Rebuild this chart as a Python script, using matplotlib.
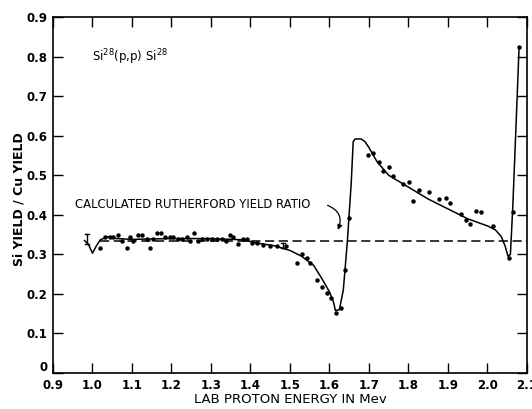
import numpy as np
from matplotlib import pyplot as plt
from matplotlib.transforms import ScaledTranslation

# measured points (dots)
dot_x = [1.019, 1.032, 1.044, 1.052, 1.065, 1.075, 1.087, 1.095, 1.103, 1.115,
         1.125, 1.138, 1.146, 1.153, 1.163, 1.173, 1.184, 1.196, 1.204, 1.216,
         1.227, 1.239, 1.247, 1.257, 1.267, 1.277, 1.290, 1.302, 1.315, 1.328,
         1.338, 1.348, 1.356, 1.368, 1.381, 1.391, 1.404, 1.416, 1.432, 1.449,
         1.467, 1.490, 1.518, 1.530, 1.543, 1.551, 1.568, 1.581, 1.594, 1.604,
         1.616, 1.629, 1.639, 1.649,
         1.697, 1.710, 1.725, 1.735, 1.751, 1.761, 1.786, 1.801, 1.811, 1.827,
         1.852, 1.877, 1.895, 1.905, 1.933, 1.946, 1.956, 1.971, 1.984, 2.014,
         2.054, 2.065, 2.080]
dot_y = [0.317, 0.343, 0.345, 0.343, 0.348, 0.335, 0.317, 0.343, 0.333, 0.348,
         0.348, 0.340, 0.315, 0.340, 0.353, 0.353, 0.343, 0.345, 0.345, 0.338,
         0.338, 0.345, 0.335, 0.355, 0.335, 0.338, 0.338, 0.340, 0.340, 0.340,
         0.335, 0.350, 0.345, 0.327, 0.340, 0.340, 0.330, 0.330, 0.325, 0.320,
         0.320, 0.322, 0.279, 0.302, 0.292, 0.279, 0.236, 0.218, 0.203, 0.190,
         0.152, 0.165, 0.261, 0.393,
         0.551, 0.556, 0.533, 0.510, 0.520, 0.498, 0.477, 0.482, 0.434, 0.462,
         0.457, 0.439, 0.442, 0.430, 0.401, 0.388, 0.378, 0.411, 0.406, 0.371,
         0.292, 0.406, 0.825]

# hand-drawn fitted curve
curve_x = [0.98, 0.99, 1.00, 1.01, 1.02, 1.04, 1.06, 1.10, 1.20, 1.30, 1.38,
           1.42, 1.46, 1.50, 1.53, 1.56, 1.58, 1.60, 1.61, 1.615, 1.625, 1.635,
           1.645, 1.655, 1.66, 1.665, 1.68, 1.69, 1.70, 1.72, 1.75, 1.80,
           1.85, 1.90, 1.95, 2.00, 2.02, 2.035, 2.045, 2.052, 2.058, 2.064,
           2.072, 2.080]
curve_y = [0.335, 0.325, 0.303, 0.322, 0.337, 0.345, 0.340, 0.338, 0.340,
           0.340, 0.337, 0.328, 0.322, 0.310, 0.295, 0.272, 0.240, 0.205,
           0.180, 0.158, 0.160, 0.210, 0.330, 0.480, 0.585, 0.592, 0.592,
           0.585, 0.570, 0.535, 0.500, 0.470, 0.440, 0.415, 0.390, 0.372,
           0.362, 0.345, 0.320, 0.295, 0.300, 0.420, 0.620, 0.825]

# error bars
err_x = [0.985, 1.483]
err_lo = [0.326, 0.316]
err_hi = [0.352, 0.330]

rutherford = 0.335
ruth_x = [1.02, 2.10]

plt.rcParams['font.family'] = 'DejaVu Sans'

fig = plt.figure(figsize=(5.32, 4.09), dpi=100)
ax = fig.add_axes([0.0996, 0.088, 0.891, 0.870])

ax.plot(curve_x, curve_y, '-k', lw=1.1)
ax.plot(dot_x, dot_y, 'o', color='k', ms=2.2)
ax.plot(ruth_x, [rutherford, rutherford], color='k', lw=1.1,
        dashes=(6, 3))
for xe, lo, hi in zip(err_x, err_lo, err_hi):
    ax.plot([xe, xe], [lo, hi], '-k', lw=1)
    ax.plot([xe - 0.005, xe + 0.005], [lo, lo], '-k', lw=1)
    ax.plot([xe - 0.005, xe + 0.005], [hi, hi], '-k', lw=1)

ax.text(0.955, 0.426, 'CALCULATED RUTHERFORD YIELD RATIO', fontsize=8.4,
        va='center', ha='left')
ax.annotate('', xy=(1.621, 0.362), xytext=(1.595, 0.424),
            arrowprops=dict(arrowstyle='-|>', color='k', lw=0.9,
                            connectionstyle='arc3,rad=-0.5',
                            mutation_scale=7, shrinkA=0, shrinkB=0))
ax.text(1.0, 0.80, r'Si$^{28}$(p,p) Si$^{28}$', fontsize=8.5,
        va='center', ha='left')

ax.set_xlim(0.9, 2.1)
ax.set_ylim(0, 0.9)
ax.set_xticks(np.arange(0.9, 2.11, 0.1))
ax.set_xticklabels(['0.9', '1.0', '1.1', '1.2', '1.3', '1.4', '1.5', '1.6',
                    '1.7', '1.8', '1.9', '2.0', '2.1'])
ax.set_yticks(np.arange(0, 0.91, 0.1))
ax.set_yticklabels(['0', '0.1', '0.2', '0.3', '0.4', '0.5', '0.6', '0.7',
                    '0.8', '0.9'])
ax.tick_params(direction='in', top=True, right=True, length=7, width=1,
               labelsize=8.5, pad=4)
for lab in ax.get_xticklabels() + ax.get_yticklabels():
    lab.set_fontweight('bold')
# the "0" sits a little above the corner in the original
zero = ax.get_yticklabels()[0]
zero.set_transform(zero.get_transform() +
                   ScaledTranslation(0, 5 / 72, fig.dpi_scale_trans))
for s in ax.spines.values():
    s.set_linewidth(1.2)

ax.set_xlabel('LAB PROTON ENERGY IN Mev', fontsize=9.5, va='center')
ax.xaxis.set_label_coords(0.5, -0.075)
ax.set_ylabel('Si YIELD / Cu YIELD', fontsize=9, fontweight='bold',
              va='center')
ax.yaxis.set_label_coords(-0.072, 0.49)

fig.savefig('out.png', dpi=100)
